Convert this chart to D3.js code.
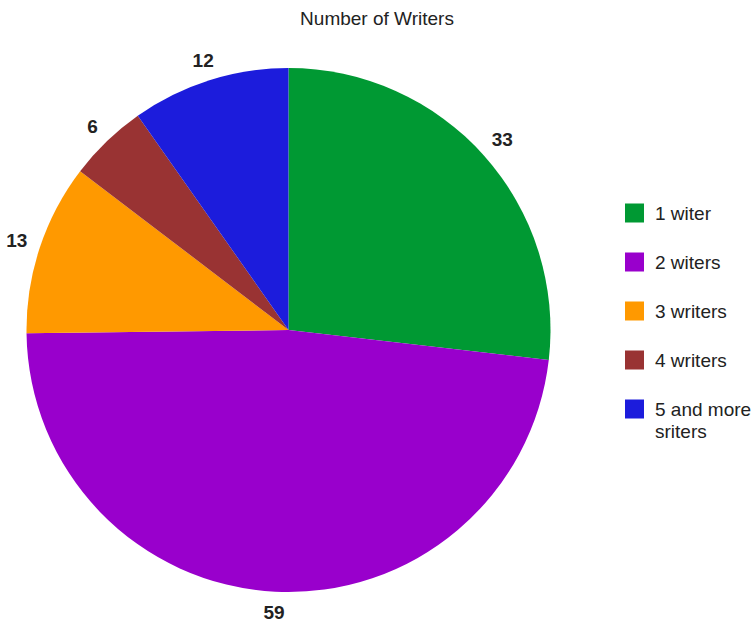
<!DOCTYPE html>
<html>
<head>
<meta charset="utf-8">
<script src="https://cdn.jsdelivr.net/npm/d3@7"></script>
<style>
	body { margin: 0; background: #fff; }
	text { font-family: Arial, "Liberation Sans", sans-serif; }
</style>
</head>
<body>
<script>
	var categories = ["1 witer", "2 witers", "3 writers", "4 writers", "5 and more sriters"];
	var values = [33, 59, 13, 6, 12];
	var colors = ["#009933", "#9900cc", "#ff9900", "#993333", "#1c1cdc"];

	var width = 752, height = 622;
	var cx = 288.5, cy = 330, radius = 262;
	var labelGap = 13;

	var svg = d3.select("body").append("svg")
		.attr("width", width)
		.attr("height", height);

	svg.append("text")
		.attr("x", 377)
		.attr("y", 25)
		.attr("text-anchor", "middle")
		.style("font-size", "19px")
		.attr("fill", "#222")
		.text("Number of Writers");

	var data = categories.map((c, i) => ({ name: c, value: values[i], color: colors[i] }));

	var pie = d3.pie()
		.value(d => d.value)
		.sort(null);

	var arc = d3.arc()
		.innerRadius(0)
		.outerRadius(radius);

	var g = svg.append("g")
		.attr("transform", "translate(" + cx + "," + cy + ")");

	var arcs = pie(data);

	g.selectAll("path")
		.data(arcs)
		.enter()
		.append("path")
		.attr("d", arc)
		.attr("fill", d => d.data.color);

	// labels: text box pushed out so its near edge sits labelGap off the rim
	g.selectAll("text")
		.data(arcs)
		.enter()
		.append("text")
		.attr("text-anchor", "middle")
		.attr("dy", "0.36em")
		.style("font-size", "19px")
		.style("font-weight", "bold")
		.attr("fill", "#222")
		.text(d => d.data.value)
		.each(function (d) {
			var a = (d.startAngle + d.endAngle) / 2;
			var dx = Math.sin(a), dy = -Math.cos(a);
			var w = this.getComputedTextLength() / 2;
			var h = 7.5;
			var ext = Math.min(Math.abs(dx) > 1e-6 ? w / Math.abs(dx) : Infinity,
				Math.abs(dy) > 1e-6 ? h / Math.abs(dy) : Infinity);
			var r = radius + labelGap + ext;
			d3.select(this).attr("transform", "translate(" + (dx * r) + "," + (dy * r) + ")");
		});

	// legend
	var legend = svg.append("g")
		.selectAll("g")
		.data(data)
		.enter()
		.append("g")
		.attr("transform", (d, i) => "translate(625," + (213 + i * 49) + ")");

	legend.append("rect")
		.attr("x", 0)
		.attr("y", -9.5)
		.attr("width", 19)
		.attr("height", 19)
		.attr("fill", d => d.color);

	legend.each(function (d) {
		var words = d.name === "5 and more sriters" ? ["5 and more", "sriters"] : [d.name];
		var t = d3.select(this).append("text")
			.attr("x", 30)
			.attr("y", 0)
			.style("font-size", "19px")
			.attr("fill", "#222");
		words.forEach((w, k) => {
			t.append("tspan")
				.attr("x", 30)
				.attr("dy", k === 0 ? "0.35em" : "22px")
				.text(w);
		});
	});
</script>
</body>
</html>
